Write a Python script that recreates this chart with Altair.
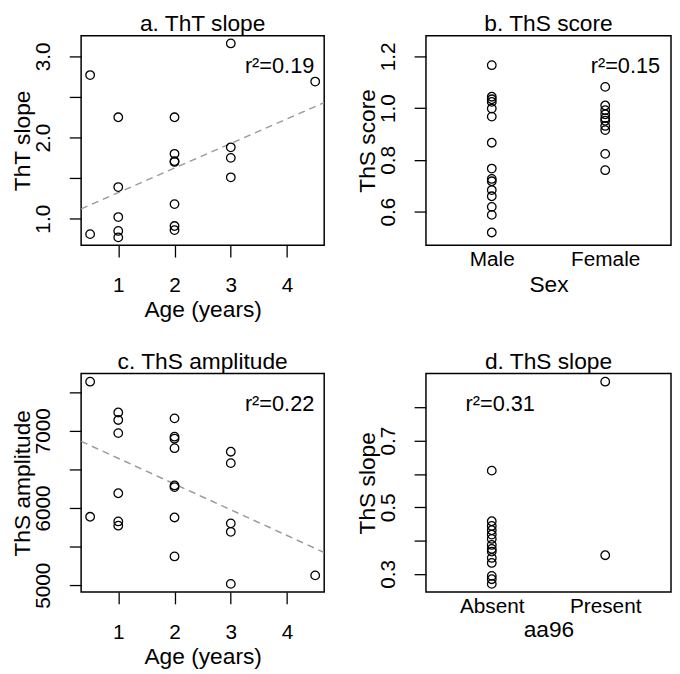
import altair as alt
import pandas as pd

FONT = "Liberation Sans"

# ---------------- data ----------------
# a. ThT slope vs age
a_age = [0.5, 0.5, 1, 1, 1, 1, 1, 2, 2, 2, 2, 2, 2, 2, 3, 3, 3, 3, 4.5]
a_val = [2.77, 0.81, 2.25, 1.39, 1.02, 0.85, 0.77,
         2.25, 1.80, 1.71, 1.70, 1.18, 0.91, 0.86,
         3.16, 1.88, 1.75, 1.51, 2.69]
a_fit = [1.018, 0.303]          # intercept, slope of dashed line

# b. ThS score by sex
b_cats = ["Male", "Female"]
b_male = [1.166, 1.044, 1.034, 1.024, 0.998, 0.967, 0.866, 0.766,
          0.726, 0.717, 0.683, 0.659, 0.618, 0.587, 0.519]
b_female = [1.082, 1.010, 0.992, 0.976, 0.961, 0.951, 0.931, 0.915,
            0.823, 0.760]
b_ylim = [0.5, 1.25]

# c. ThS amplitude vs age
c_age = [0.5, 0.5, 1, 1, 1, 1, 1, 1, 2, 2, 2, 2, 2, 2, 2, 2,
         3, 3, 3, 3, 3, 4.5]
c_val = [7636, 5886, 7237, 7140, 6970, 6191, 5826, 5771,
         7161, 6924, 6898, 6775, 6292, 6271, 5877, 5373,
         6729, 6581, 5801, 5691, 5017, 5127]
c_fit = [6977, -333.4]

# d. ThS slope by aa96
d_cats = ["Absent", "Present"]
d_absent = [0.61, 0.458, 0.444, 0.431, 0.418, 0.405, 0.387, 0.375,
            0.367, 0.348, 0.333, 0.294, 0.284, 0.270]
d_present = [0.877, 0.356]

r2 = ["r\u00b2=0.19", "r\u00b2=0.15", "r\u00b2=0.22", "r\u00b2=0.31"]
titles = ["a. ThT slope", "b. ThS score", "c. ThS amplitude", "d. ThS slope"]

a_yticks = [1.0, 1.5, 2.0, 2.5, 3.0]
b_yticks = [0.6, 0.8, 1.0, 1.2]
c_yticks = [5000, 5500, 6000, 6500, 7000, 7500]
d_yticks = [0.3, 0.4, 0.5, 0.6, 0.7, 0.8]
age_ticks = [1, 2, 3, 4]


def r_range(lo, hi):
    span = hi - lo
    return [lo - 0.04 * span, hi + 0.04 * span]


def y_axis(title, values, expr, h):
    return alt.Axis(title=title, values=values, labelExpr=expr,
                    tickSize=12, labelPadding=20, labelAngle=270,
                    labelAlign="center", labelBaseline="alphabetic",
                    labelOverlap=False, labelFlush=False,
                    titleAngle=270, titleAlign="center",
                    titleBaseline="alphabetic", titleX=-52, titleY=h / 2)


def x_num_axis(title, values, w):
    return alt.Axis(title=title, values=values,
                    labelExpr="format(datum.value, 'd')",
                    tickSize=12, labelPadding=35, labelAngle=0,
                    labelAlign="center", labelBaseline="alphabetic",
                    labelOverlap=False, labelFlush=False,
                    titleX=w / 2, titleY=72, titleAlign="center",
                    titleBaseline="alphabetic")


def x_cat_axis(title, cats, w, ty):
    return alt.Axis(title=title, values=[1, 2],
                    labelExpr=f"{cats}[datum.value - 1]",
                    ticks=False, tickSize=0, labelPadding=21, labelAngle=0,
                    labelAlign="center", labelBaseline="alphabetic",
                    labelOverlap=False, labelFlush=False,
                    titleX=w / 2, titleY=ty, titleAlign="center",
                    titleBaseline="alphabetic")


def points(df, xe, ye):
    return alt.Chart(df).mark_point(
        shape="circle", filled=False, color="black", strokeWidth=1.3,
        size=75, opacity=1).encode(x=xe, y=ye)


def fit_line(fit, xdom, xe, ye):
    df = pd.DataFrame({"x": xdom,
                       "y": [fit[0] + fit[1] * v for v in xdom]})
    return alt.Chart(df).mark_line(
        color="#9a9a9a", strokeDash=[7, 5], strokeWidth=1.5,
        clip=True).encode(x=xe, y=ye)


def label(text, x, y, align, size):
    return alt.Chart(pd.DataFrame({"t": [text]})).mark_text(
        font=FONT, fontSize=size, color="black", align=align,
        baseline="alphabetic").encode(
        text="t:N", x=alt.value(x), y=alt.value(y))


W_L, W_R = 246, 248
H_1, H_2 = 212, 221

# ---- panel a
a_xdom = r_range(min(a_age), max(a_age))
a_ydom = r_range(min(a_val), max(a_val))
xe = alt.X("x:Q", scale=alt.Scale(domain=a_xdom, nice=False, zero=False),
           axis=x_num_axis("Age (years)", age_ticks, W_L))
ye = alt.Y("y:Q", scale=alt.Scale(domain=a_ydom, nice=False, zero=False),
           axis=y_axis("ThT slope", a_yticks,
                       "datum.value % 1 === 0 ? format(datum.value, '.1f') : ''", H_1))
pa = alt.layer(
    fit_line(a_fit, a_xdom, xe, ye),
    points(pd.DataFrame({"x": a_age, "y": a_val}), xe, ye),
    label(r2[0], W_L - 10, 38, "right", 22),
    label(titles[0], W_L / 2, -5, "center", 23),
).properties(width=W_L, height=H_1)

# ---- panel b
b_xdom = r_range(0.5, 2.5)
b_ydom = r_range(*b_ylim)
b_df = pd.DataFrame({"x": [1] * len(b_male) + [2] * len(b_female),
                     "y": b_male + b_female})
xe = alt.X("x:Q", scale=alt.Scale(domain=b_xdom, nice=False, zero=False),
           axis=x_cat_axis("Sex", b_cats, W_R, 46.7))
ye = alt.Y("y:Q", scale=alt.Scale(domain=b_ydom, nice=False, zero=False),
           axis=y_axis("ThS score", b_yticks,
                       "format(datum.value, '.1f')", H_1))
pb = alt.layer(
    points(b_df, xe, ye),
    label(r2[1], W_R - 11, 38, "right", 22),
    label(titles[1], W_R / 2, -5, "center", 23),
).properties(width=W_R, height=H_1)

# ---- panel c
c_xdom = r_range(min(c_age), max(c_age))
c_ydom = r_range(min(c_val), max(c_val))
xe = alt.X("x:Q", scale=alt.Scale(domain=c_xdom, nice=False, zero=False),
           axis=x_num_axis("Age (years)", age_ticks, W_L))
ye = alt.Y("y:Q", scale=alt.Scale(domain=c_ydom, nice=False, zero=False),
           axis=y_axis("ThS amplitude", c_yticks,
                       "datum.value % 1000 === 0 ? format(datum.value, 'd') : ''", H_2))
pc = alt.layer(
    fit_line(c_fit, c_xdom, xe, ye),
    points(pd.DataFrame({"x": c_age, "y": c_val}), xe, ye),
    label(r2[2], W_L - 10, 38, "right", 22),
    label(titles[2], W_L / 2, -5, "center", 23),
).properties(width=W_L, height=H_2)

# ---- panel d
d_xdom = r_range(0.5, 2.5)
d_all = d_absent + d_present
d_ydom = r_range(min(d_all), max(d_all))
d_df = pd.DataFrame({"x": [1] * len(d_absent) + [2] * len(d_present),
                     "y": d_all})
xe = alt.X("x:Q", scale=alt.Scale(domain=d_xdom, nice=False, zero=False),
           axis=x_cat_axis("aa96", d_cats, W_R, 44.7))
ye = alt.Y("y:Q", scale=alt.Scale(domain=d_ydom, nice=False, zero=False),
           axis=y_axis("ThS slope", d_yticks,
                       "round(datum.value * 10) % 2 === 1 ? format(datum.value, '.1f') : ''", H_2))
pd_ = alt.layer(
    points(d_df, xe, ye),
    label(r2[3], 40, 38, "left", 22),
    label(titles[3], W_R / 2, -5, "center", 23),
).properties(width=W_R, height=H_2)

chart = alt.concat(
    pa, pb, pc, pd_, columns=2,
    spacing={"row": 130, "column": 103}, bounds="flush",
).properties(
    padding={"left": 3, "top": 0, "right": 0, "bottom": 0}
).configure(font=FONT).configure_view(
    stroke="black", strokeWidth=1.5
).configure_axis(
    domain=False, grid=False, tickColor="black", tickWidth=1.3,
    labelFont=FONT, labelFontSize=21, labelColor="black",
    titleFont=FONT, titleFontSize=23, titleFontWeight="normal",
    titleColor="black",
)

chart.save("out.html", embed_options={"renderer": "svg", "actions": False})
